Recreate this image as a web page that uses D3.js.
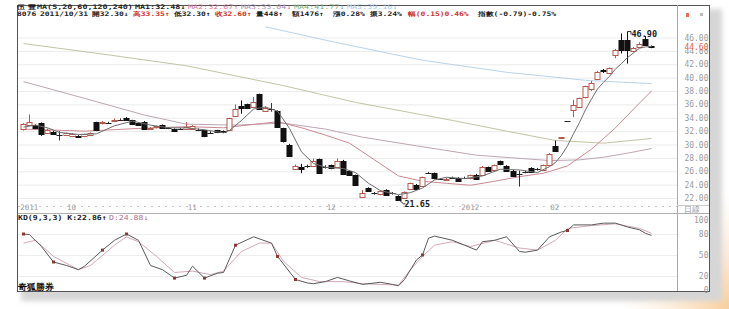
<!DOCTYPE html>
<html><head><meta charset="utf-8">
<script src="https://cdn.jsdelivr.net/npm/d3@7"></script>
<style>
html,body{margin:0;padding:0;background:#fff;}
svg{display:block;}
text{font-family:"DejaVu Sans Mono",monospace;}
</style></head>
<body><svg id="chart" width="729" height="309"></svg>
<script>
// 8076 daily K-line with MA and KD panels.
// candles: [open, high, low, close]
const candles = [
  [32.2,33.2,32.1,33.0],[32.9,34.5,32.8,33.4],[32.9,33.0,32.3,32.4],[33.2,33.3,31.3,31.5],
  [31.8,32.4,31.7,32.2],[31.9,32.0,31.5,31.6],[31.4,32.0,30.6,31.45],[31.4,31.8,31.3,31.7],
  [31.3,31.7,31.2,31.6],[31.3,31.4,31.0,31.1],[31.2,31.6,31.1,31.5],[31.4,31.8,31.3,31.7],
  [33.3,33.4,32.0,32.1],[33.2,33.5,33.0,33.3],[33.3,33.4,33.1,33.25],[33.6,33.9,33.5,33.7],
  [33.7,33.9,33.6,33.7],[34.0,34.1,33.6,33.7],[33.6,33.7,32.9,33.0],[33.2,33.3,32.8,32.9],
  [33.4,33.5,32.2,32.3],[32.3,32.6,32.2,32.5],[32.5,32.8,32.4,32.7],[32.9,33.0,32.4,32.5],
  [32.4,32.6,32.3,32.4],[32.35,32.4,31.9,32.0],[32.3,32.5,32.2,32.35],[32.3,33.35,32.3,32.6],
  [32.4,32.9,32.3,32.8],[32.2,32.4,32.0,32.2],[32.1,32.2,31.1,31.2],[31.8,32.0,31.6,31.75],
  [32.1,32.2,31.7,31.8],[32.0,32.1,31.7,31.8],[32.1,34.0,32.0,33.9],[34.3,36.0,34.2,35.3],
  [35.7,36.6,34.6,35.4],[36.0,36.1,35.3,35.4],[35.6,37.1,35.5,36.3],[37.5,37.6,35.2,35.3],
  [35.0,35.7,34.9,35.5],[35.2,36.2,34.9,35.25],[35.0,35.1,32.5,32.6],[32.4,32.5,30.3,30.4],
  [30.0,30.1,28.2,28.3],[26.4,27.0,26.3,26.8],[26.6,27.1,25.7,26.3],[26.7,27.0,26.5,26.75],
  [26.9,27.9,26.8,27.6],[27.8,27.9,25.6,25.7],[26.6,26.9,26.4,26.65],[26.9,27.0,26.3,26.4],
  [26.6,27.9,26.5,27.5],[27.6,27.7,25.6,25.7],[26.0,26.1,25.3,25.4],[25.4,25.5,23.8,23.9],
  [22.2,23.2,22.1,22.8],[23.5,23.6,22.9,23.0],[22.7,22.9,22.5,22.7],[22.5,23.1,22.4,23.0],
  [23.2,23.3,22.4,22.5],[22.7,22.9,22.5,22.7],[22.3,22.4,21.65,21.75],[22.0,23.0,21.9,22.9],
  [23.3,24.3,23.2,24.2],[24.0,24.1,23.3,23.4],[23.8,25.2,23.7,25.1],[25.7,25.9,25.6,25.75],
  [25.7,25.8,24.8,24.9],[24.9,25.0,24.8,24.9],[24.7,25.0,24.6,24.9],[25.0,25.2,24.9,25.05],
  [25.0,25.1,24.5,24.55],[25.0,25.2,24.9,25.05],[24.9,25.5,24.8,25.4],[25.5,25.6,24.8,24.9],
  [25.5,26.8,25.4,26.7],[26.6,26.7,25.9,26.0],[26.15,27.0,26.1,26.9],[27.5,27.6,26.9,27.0],
  [26.8,26.9,26.0,26.05],[26.1,26.2,25.2,25.3],[25.5,26.1,23.7,25.55],[25.9,26.1,25.7,25.9],
  [26.55,26.6,25.8,25.9],[26.3,26.5,26.1,26.3],[26.2,27.0,26.1,26.9],[26.9,28.7,26.8,28.6],
  [29.8,30.6,28.9,29.0],[31.0,31.1,30.9,31.1],[33.5,33.5,33.5,33.5],[35.1,36.7,34.1,35.9],
  [35.6,37.0,35.5,36.9],[37.0,38.8,36.9,38.7],[38.3,39.5,38.0,39.2],[39.9,41.0,39.8,40.9],
  [41.1,41.3,40.7,41.0],[40.7,41.5,40.6,41.4],[43.3,44.3,42.9,44.1],[45.7,46.6,43.6,44.2],
  [45.6,46.9,42.1,44.1],[44.0,44.6,43.8,44.5],[44.7,45.3,44.5,45.1],[45.8,46.2,44.9,44.95],
  [44.7,44.8,44.4,44.6]
];
// moving averages: [candle index, value]
const ma5 = [[0,32.6],[2,32.9],[4,32.5],[6,31.8],[9,31.5],[12,31.6],[15,32.8],[18,33.5],[21,32.9],[24,32.5],
  [27,32.48],[30,32.2],[33,31.75],[34,32.1],[36,33.6],[38,35.3],[40,35.6],[42,35.0],[44,32.4],[46,28.9],
  [48,27.15],[50,26.6],[53,26.4],[55,25.8],[57,24.2],[59,23.1],[62,22.5],[64,22.8],[66,23.5],[68,24.7],
  [70,25.1],[73,24.9],[76,25.3],[79,26.3],[82,26.2],[85,25.8],[87,26.7],[88,27.3],[89,28.4],[90,29.8],
  [91,31.6],[92,33.3],[93,35.2],[94,36.8],[95,38.3],[96,39.3],[97,40.2],[98,41.3],[99,42.1],[100,43.0],
  [101,43.7],[102,44.4],[103,44.6],[104,44.65]];
const ma20 = [[0,32.3],[10,32.0],[19,32.4],[27,32.67],[33,32.5],[38,33.0],[42,33.4],[46,32.5],[50,31.4],
  [54,30.2],[58,27.7],[62,25.3],[66,24.5],[70,24.2],[74,23.9],[78,24.5],[82,25.2],[86,25.7],[90,26.8],
  [94,29.3],[98,32.5],[102,36.2],[104,38.0]];
const ma60 = [[0,39.4],[10,36.9],[20,34.4],[27,33.04],[35,32.9],[43,33.2],[50,32.3],[56,31.1],[65,29.8],
  [75,28.4],[87,27.6],[92,27.7],[96,28.1],[100,28.7],[104,29.4]];
const ma120 = [[0,45.1],[14,43.4],[27,41.77],[43,38.8],[55,36.3],[71,33.6],[80,32.0],[88,30.6],[96,30.2],[104,30.9]];
const ma240 = [[40,47.6],[50,45.6],[60,43.7],[66,42.6],[80,40.8],[93,39.6],[104,39.1]];
// KD(9,3,3)
const kLine = [[0,80],[1,79],[3,62],[5,40],[7,35],[9,29],[10,34],[13,57],[15,71],[17,80],[19,71],[21,35],
  [23,29],[25,17],[27,21],[28,34],[30,17],[32,24],[33,25],[35,64],[38,76],[41,67],[42,48],[45,15],[47,10],
  [48,9],[50,12],[52,18],[54,13],[56,8],[59,11],[61,8],[62,6],[63,15],[65,43],[66,50],[67,74],[68,77],
  [71,71],[73,64],[75,57],[76,69],[78,71],[80,76],[82,55],[83,54],[85,57],[87,76],[89,83],[90,85],[91,93],
  [94,93],[96,95.5],[98,95.5],[100,90],[102,86],[103,81],[104,78]];
const dLine = [[0,67],[2,71],[5,48],[9,29],[11,35],[15,64],[17,76],[19,69],[22,48],[25,25],[28,27],[31,22],
  [33,27],[36,55],[39,67],[41,67],[43,41],[46,18],[49,12],[53,12],[56,9],[62,7],[64,29],[66,48],[68,64],
  [71,69],[74,62],[78,71],[82,60],[85,57],[88,71],[90,88],[94,92],[98,94.6],[102,88],[104,81]];
const kDots = [0,5,13,17,25,30,35,42,45,66,90];
const priceTicks = [22,24,26,28,30,32,34,36,38,40,42,44,46];
const kdTicks = [0,20,50,80,100];
const monthTicks = [0,8,28,51,74,88];
const monthLabels = ["2011","10","11","12","2012","02"];
const lastClose = 44.60;

const svg = d3.select("#chart");
const defs = svg.append("defs");
defs.append("filter").attr("id","blur").attr("x","-10%").attr("y","-10%").attr("width","120%").attr("height","120%")
  .append("feGaussianBlur").attr("stdDeviation",2.5);
const glow = defs.append("radialGradient").attr("id","glow").attr("cx",1).attr("cy",1).attr("r",1);
glow.append("stop").attr("offset",0).attr("stop-color","#f8c890").attr("stop-opacity",0.9);
glow.append("stop").attr("offset",1).attr("stop-color","#fbe3c8").attr("stop-opacity",0);
defs.append("clipPath").attr("id","pclip").append("rect").attr("x",18).attr("y",16).attr("width",659).attr("height",190);

// page decoration: orange glow, drop shadow, frame
svg.append("rect").attr("x",620).attr("y",190).attr("width",109).attr("height",119).attr("fill","url(#glow)");
svg.append("rect").attr("x",21).attr("y",9).attr("width",701).attr("height",292).attr("fill","#d6d6d6").attr("filter","url(#blur)");
svg.append("rect").attr("x",17.5).attr("y",5.5).attr("width",692).attr("height",286).attr("fill","#fff").attr("stroke","#555");

const x = d3.scaleBand().domain(d3.range(candles.length)).range([19.7,655]).padding(0.17);
const xc = i => Math.round(x(i) + x.bandwidth() / 2) + 0.5;
const y = d3.scaleLinear().domain([22,46]).range([198,37.5]);
const yk = d3.scaleLinear().domain([0,100]).range([290,220]);

// grid lines
svg.append("g").attr("transform","translate(677,0)")
  .call(d3.axisLeft(y).tickValues(priceTicks).tickSize(659).tickFormat(""))
  .call(g => g.select(".domain").remove())
  .call(g => g.selectAll("line").attr("stroke","#ebebeb"));
svg.append("g").attr("transform","translate(677,0)")
  .call(d3.axisLeft(yk).tickValues([20,50,80]).tickSize(659).tickFormat(""))
  .call(g => g.select(".domain").remove())
  .call(g => g.selectAll("line").attr("stroke","#ededed"));

// panel separators
svg.append("line").attr("x1",677.5).attr("x2",677.5).attr("y1",5).attr("y2",291).attr("stroke","#aaa");
svg.append("line").attr("x1",18).attr("x2",677).attr("y1",206.5).attr("y2",206.5).attr("stroke","#c8c8c8").attr("stroke-dasharray","2,5");
svg.append("line").attr("x1",18).attr("x2",709).attr("y1",213.5).attr("y2",213.5).attr("stroke","#b0b0b0");
svg.append("line").attr("x1",677).attr("x2",709).attr("y1",205.5).attr("y2",205.5).attr("stroke","#ccc");

// price axis
svg.append("g").attr("transform","translate(709.5,0)")
  .call(d3.axisLeft(y).tickValues(priceTicks).tickSize(0).tickPadding(1).tickFormat(d3.format(".2f")))
  .call(g => g.select(".domain").remove())
  .call(g => g.selectAll("text").attr("fill","#9a9a9a").attr("font-size",8).attr("font-family","DejaVu Sans Mono"));
svg.append("rect").attr("x",684).attr("y",y(lastClose)-3.5).attr("width",25).attr("height",6.5).attr("fill","#fff");
svg.append("text").attr("x",708.5).attr("y",y(lastClose)+3).attr("text-anchor","end")
  .attr("font-size",8).attr("fill","#e0603a").text(d3.format(".2f")(lastClose));
svg.append("text").attr("x",684).attr("y",212).attr("font-size",7.5).attr("fill","#999")
  .attr("font-family","Noto Sans CJK TC").text("日線");
svg.append("rect").attr("x",686).attr("y",13).attr("width",3).attr("height",4).attr("fill","#e07060");
svg.append("rect").attr("x",700).attr("y",13).attr("width",3).attr("height",3).attr("fill","#bbb");

// KD axis
svg.append("g").attr("transform","translate(709.5,0)")
  .call(d3.axisLeft(yk).tickValues(kdTicks).tickSize(0).tickPadding(1))
  .call(g => g.select(".domain").remove())
  .call(g => g.selectAll("text").attr("fill","#9a9a9a").attr("font-size",8).attr("font-family","DejaVu Sans Mono"));

// date axis
svg.append("g").attr("transform","translate(0,205)")
  .call(d3.axisBottom(x).tickValues(monthTicks).tickSize(0).tickPadding(0)
    .tickFormat(i => monthLabels[monthTicks.indexOf(i)]))
  .call(g => g.select(".domain").remove())
  .call(g => g.selectAll("text").attr("fill","#9a9a9a").attr("font-size",7.5).attr("font-family","DejaVu Sans Mono"))
  .call(g => g.select(".tick text").attr("text-anchor","start").attr("dx",-3));

// moving averages
const plot = svg.append("g").attr("clip-path","url(#pclip)");
const maLine = d3.line().x(d => xc(d[0])).y(d => y(d[1]));
[[ma240,"#b9d3ea"],[ma120,"#c3c4a4"],[ma60,"#bca6b4"],[ma20,"#c98a92"]].forEach(([data,col]) => {
  plot.append("path").datum(data).attr("d",maLine).attr("fill","none").attr("stroke",col).attr("stroke-width",1);
});

// candles (keep each candle's own index so filtered selections stay in place)
const bars = candles.map((d, i) => ({ i, o: d[0], h: d[1], l: d[2], c: d[3] }));
const UP = "#b55a4c", DOWN = "#111";
const flat = d => Math.abs(d.c - d.o) < 0.06;
const cg = plot.selectAll("g.candle").data(bars).join("g").attr("class","candle");
cg.append("line")
  .attr("x1",d => xc(d.i)).attr("x2",d => xc(d.i))
  .attr("y1",d => y(d.h)).attr("y2",d => y(d.l))
  .attr("stroke",d => flat(d) ? "#333" : (d.c > d.o ? UP : DOWN));
cg.filter(d => !flat(d)).append("rect")
  .attr("x",d => xc(d.i) - 2.5).attr("width",5)
  .attr("y",d => Math.round(y(Math.max(d.o,d.c))) + 0.5)
  .attr("height",d => Math.max(1, Math.round(Math.abs(y(d.o) - y(d.c)))))
  .attr("fill",d => d.c > d.o ? "#fff" : DOWN)
  .attr("stroke",d => d.c > d.o ? UP : DOWN);
cg.filter(flat).append("line")
  .attr("x1",d => xc(d.i) - 3).attr("x2",d => xc(d.i) + 3)
  .attr("y1",d => Math.round(y(d.c)) + 0.5).attr("y2",d => Math.round(y(d.c)) + 0.5)
  .attr("stroke","#222");

// MA5 on top of candles
plot.append("path").datum(ma5).attr("d",maLine).attr("fill","none").attr("stroke","#6e6e6e").attr("stroke-width",1);

// extreme labels
const hi = d3.maxIndex(bars, d => d.h), lo = d3.minIndex(bars, d => d.l);
svg.append("path").attr("d",`M${xc(hi)},${y(bars[hi].h)}h3.5v3`).attr("fill","none").attr("stroke","#333");
svg.append("text").attr("x",xc(hi) + 4).attr("y",y(bars[hi].h) + 6).attr("font-size",8.5).attr("font-weight","bold")
  .attr("fill","#222").text(d3.format(".2f")(bars[hi].h));
svg.append("path").attr("d",`M${xc(lo)+1},${y(bars[lo].l)}l4,3.5h2`).attr("fill","none").attr("stroke","#333");
svg.append("text").attr("x",xc(lo) + 6).attr("y",y(bars[lo].l) + 6.5).attr("font-size",8.5).attr("font-weight","bold")
  .attr("fill","#222").text(d3.format(".2f")(bars[lo].l));

// KD lines
const kdLine = d3.line().x(d => xc(d[0])).y(d => yk(d[1]));
svg.append("path").datum(dLine).attr("d",kdLine).attr("fill","none").attr("stroke","#d2a9b6").attr("stroke-width",1);
svg.append("path").datum(kLine).attr("d",kdLine).attr("fill","none").attr("stroke","#5a5a5a").attr("stroke-width",1);
svg.selectAll("rect.kdot").data(kLine.filter(d => kDots.includes(d[0]))).join("rect").attr("class","kdot")
  .attr("x",d => xc(d[0]) - 1.5).attr("y",d => yk(d[1]) - 1.5).attr("width",3).attr("height",3).attr("fill","#8a3a34");

// header texts (glyphs are squashed vertically in the original)
const dark = "#1d1d1d";
function textRow(yPos, size, sy, segs) {
  svg.append("g").attr("transform",`translate(0,${yPos}) scale(1,${sy})`)
    .selectAll("text").data(segs).join("text")
    .attr("x",d => d[0]).attr("y",0).attr("font-size",size).attr("fill",d => d[2])
    .attr("font-weight",d => d[3] ? "bold" : null).text(d => d[1]);
}
textRow(9.2, 8.4, 0.75, [
  [17,"伍",dark,1],[28,"豐",dark,1],[37,"MA(5,20,60,120,240)",dark,1],[135,"MA1:32.48↓",dark,1],
  [188,"MA2:32.67↑","#d47a9a"],[241,"MA3:33.04↓","#a991b3"],[294,"MA4:41.77↓","#7cb27c"],[347,"MA5:39.16↓","#a9c8e6"]
]);
textRow(15.8, 8.0, 0.78, [
  [17,"8076",dark,1],[40,"2011/10/31",dark,1],[92,"開32.30↓",dark,1],[133,"高33.35↑","#d0342c",1],
  [174,"低32.30↑",dark,1],[215,"收32.60↑","#d0342c",1],[256,"量448↑",dark,1],[292,"額1476↑",dark,1],
  [333,"漲0.28%",dark,1],[370,"振3.24%",dark,1],[408,"幅(0.15)0.46%","#d0342c",1],[478,"指數(-0.79)-0.75%",dark,1]
]);
textRow(219.5, 8.2, 0.85, [[18,"KD(9,3,3) K:22.86↑",dark,1],[109,"D:24.88↓","#b0708a"]]);
svg.append("text").attr("x",18).attr("y",290).attr("font-size",9).attr("font-weight","bold")
  .attr("font-family","Noto Sans CJK TC").attr("fill","#111").text("奇狐勝券");
</script></body></html>
